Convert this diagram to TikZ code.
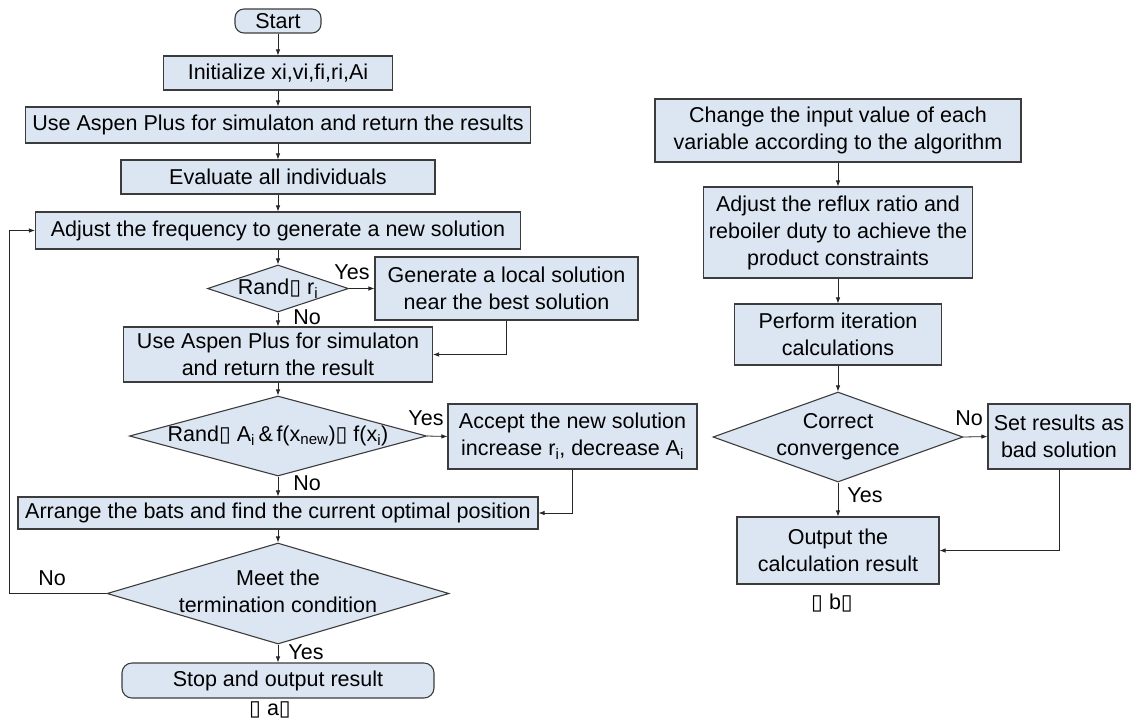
\documentclass[tikz,border=0pt]{standalone}
\usepackage{fontspec}
\setmainfont{Liberation Sans}
\newfontfamily\djv{DejaVu Sans}
\usetikzlibrary{shapes.geometric,arrows.meta}
\newcommand\tofu{{\djv\char"25AF}}
\definecolor{boxfill}{RGB}{220,230,242}
\definecolor{boxline}{RGB}{60,60,60}
\begin{document}
\begin{tikzpicture}[x=1pt,y=-1pt,
  every node/.style={font=\fontsize{21.5}{27}\selectfont, inner sep=0pt, align=center},
  proc/.style={draw=boxline, fill=boxfill, line width=1.1pt, rectangle},
  term/.style={proc, rounded corners=9pt},
  dec/.style={draw=boxline, fill=boxfill, line width=1.1pt, diamond},
  arr/.style={-{Latex[length=6pt,width=4.5pt]}, line width=0.8pt, black!85},
]
\useasboundingbox (0,0) rectangle (1131,724);

% ---- left flowchart (a)
\node[term, minimum width=86pt, minimum height=24pt] (start) at (278,21) {Start};
\node[proc, minimum width=229pt, minimum height=34pt] (init) at (278,73) {Initialize xi,vi,fi,ri,Ai};
\node[proc, minimum width=505pt, minimum height=36pt] (asp1) at (278,125) {Use Aspen Plus for simulaton and return the results};
\node[proc, minimum width=314pt, minimum height=34pt] (eval) at (278,177) {Evaluate all individuals};
\node[proc, minimum width=485pt, minimum height=37pt] (adj) at (278,230.5) {Adjust the frequency to generate a new solution};
\node[dec, minimum width=141pt, minimum height=47pt] (r1) at (278,288.5) {\makebox[0pt]{Rand\tofu\ r\textsubscript{i}}};
\node[proc, minimum width=263pt, minimum height=63pt] (gen) at (506.5,288.5) {Generate a local solution\\near the best solution};
\node[proc, minimum width=309pt, minimum height=55pt] (asp2) at (278,354.5) {Use Aspen Plus for simulaton\\and return the result};
\node[dec, minimum width=297pt, minimum height=80pt] (r2) at (278,436) {\makebox[0pt]{Rand\tofu\ A\textsubscript{i}\,\&\,f(x\textsubscript{new})\tofu\ f(x\textsubscript{i})}};
\node[proc, minimum width=249pt, minimum height=65pt] (acc) at (572.5,436.5) {Accept the new solution\\increase r\textsubscript{i}, decrease A\textsubscript{i}};
\node[proc, minimum width=520pt, minimum height=32pt] (arng) at (278,513) {Arrange the bats and find the current optimal position};
\node[dec, minimum width=342pt, minimum height=101pt] (meet) at (278,593.5) {\makebox[0pt]{\begin{tabular}{@{}c@{}}Meet the\\termination condition\end{tabular}}};
\node[term, minimum width=312pt, minimum height=35pt, rounded corners=10pt] (stop) at (278,680.5) {Stop and output result};
\node (capa) at (270,710) {\tofu\ a\tofu};

\node (y1) at (352,272) {Yes};
\node (n1) at (307,317) {No};
\node (y2) at (426,418) {Yes};
\node (n2) at (307,483) {No};
\node (n3) at (52,578) {No};
\node (y3) at (306,652) {Yes};

\draw[arr] (start) -- (init);
\draw[arr] (init) -- (asp1);
\draw[arr] (asp1) -- (eval);
\draw[arr] (eval) -- (adj);
\draw[arr] (adj) -- (r1);
\draw[arr] (r1.east) -- (gen.west);
\draw[arr] (r1.south) -- (asp2.north);
\draw[arr] (gen.south) |- (asp2.east);
\draw[arr] (asp2) -- (r2);
\draw[arr] (r2.east) -- (acc.west);
\draw[arr] (r2.south) -- (arng.north);
\draw[arr] (acc.south) |- (arng.east);
\draw[arr] (arng) -- (meet);
\draw[arr] (meet.south) -- (stop.north);
\coordinate (lp) at (9,593.5);
\draw[arr] (meet.west) -- (lp) |- (adj.west);

% ---- right flowchart (b)
\node[proc, minimum width=366pt, minimum height=63pt] (chg) at (838,130.5) {Change the input value of each\\variable according to the algorithm};
\node[proc, minimum width=269pt, minimum height=91pt] (adj2) at (838,232.5) {Adjust the reflux ratio and\\reboiler duty to achieve the\\product constraints};
\node[proc, minimum width=207pt, minimum height=61pt] (perf) at (838,334.5) {Perform iteration\\calculations};
\node[dec, minimum width=250pt, minimum height=90pt] (corr) at (838,437) {\makebox[0pt]{\begin{tabular}{@{}c@{}}Correct\\convergence\end{tabular}}};
\node[proc, minimum width=142pt, minimum height=65pt] (setr) at (1059,436.5) {Set results as\\bad solution};
\node[proc, minimum width=202pt, minimum height=67pt] (outp) at (838,550.5) {Output the\\calculation result};
\node (capb) at (832,603) {\tofu\ b\tofu};

\node (n4) at (969,418) {No};
\node (y4) at (865,495) {Yes};

\draw[arr] (chg) -- (adj2);
\draw[arr] (adj2) -- (perf);
\draw[arr] (perf) -- (corr);
\draw[arr] (corr.east) -- (setr.west);
\draw[arr] (corr.south) -- (outp.north);
\draw[arr] (setr.south) |- (outp.east);
\end{tikzpicture}
\end{document}
